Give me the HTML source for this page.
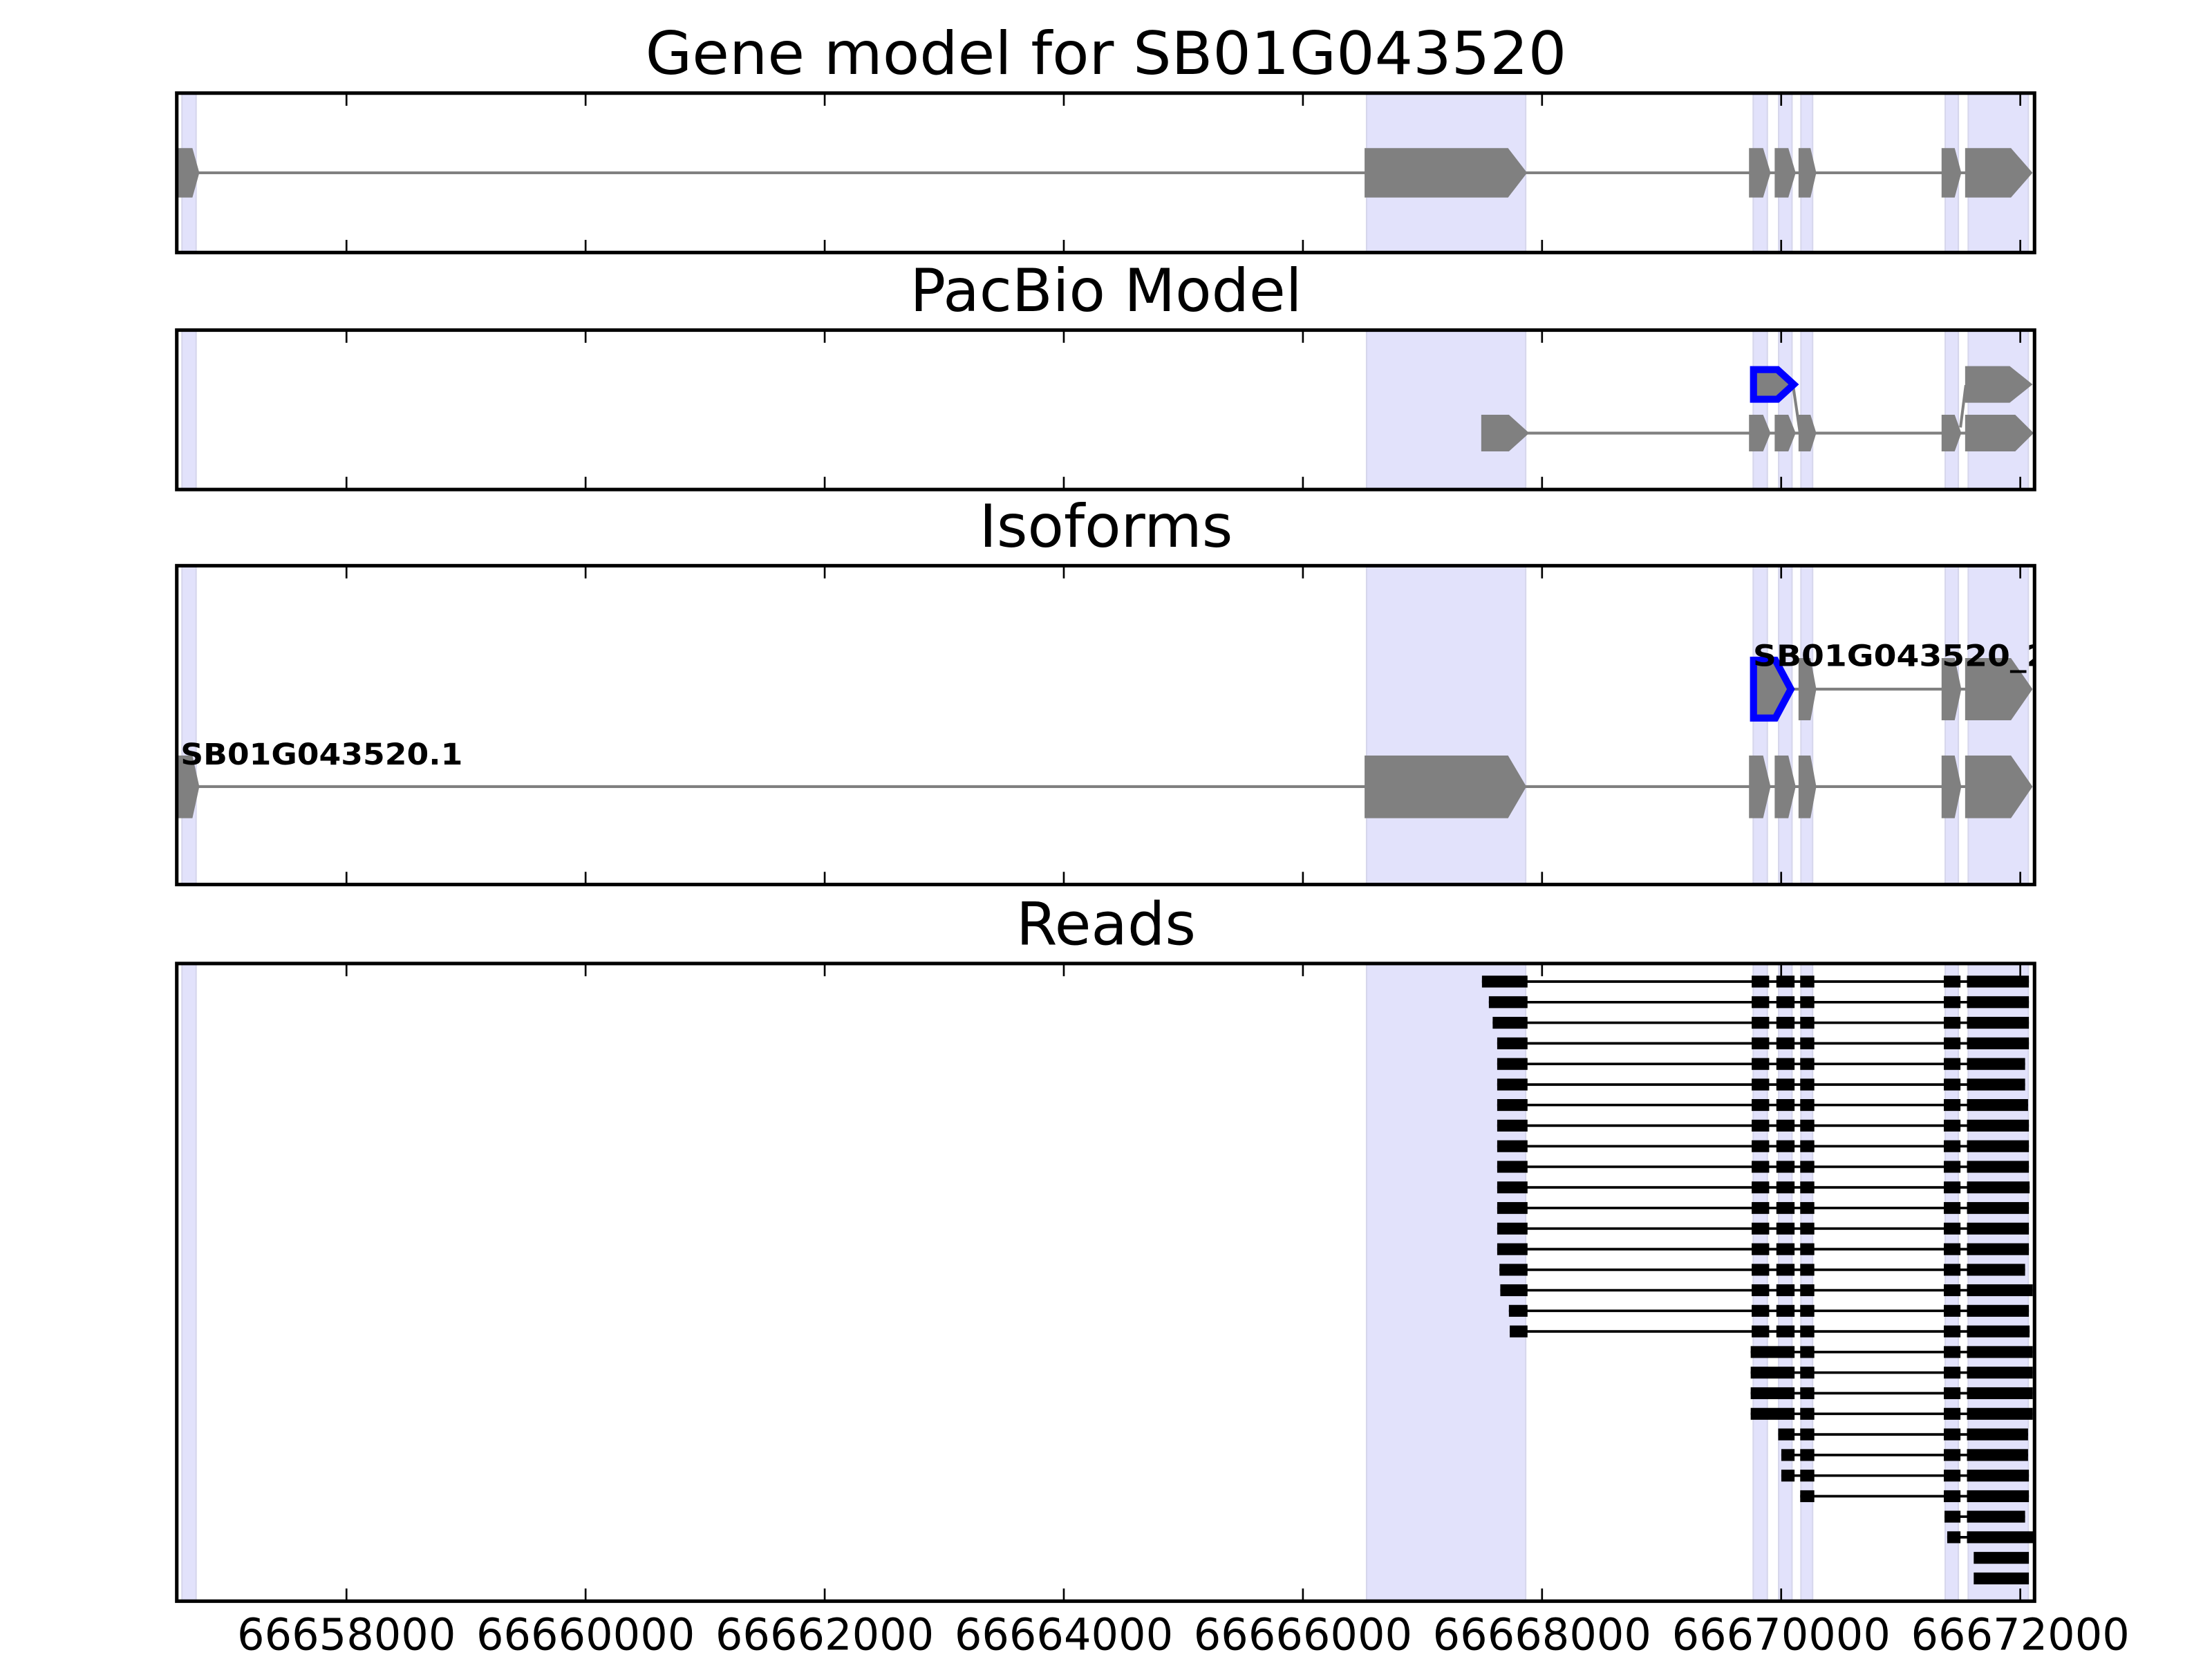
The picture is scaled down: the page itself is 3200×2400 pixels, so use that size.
<!DOCTYPE html>
<html><head><meta charset="utf-8"><style>
html,body{margin:0;padding:0;background:#fff;}
svg{display:block;}
text{font-family:"DejaVu Sans","Liberation Sans",sans-serif;}
</style></head><body>
<svg xmlns="http://www.w3.org/2000/svg" width="3200" height="2400" viewBox="0 0 1568 1176">
<defs>
<clipPath id="c3"><rect x="125" y="401" width="1318" height="226"/></clipPath>
<g id="bands">
<rect x="129" width="10" y="0" height="1" />
</g>
</defs>
<rect width="1568" height="1176" fill="#fff"/>

<!-- Bands -->
<g fill="#e2e2fb" stroke="#d6d6ec" stroke-width="1">
<g id="b1">
<rect x="129" y="66" width="10" height="113"/>
<rect x="968.7" y="66" width="112.8" height="113"/>
<rect x="1242.8" y="66" width="10" height="113"/>
<rect x="1260.8" y="66" width="9.5" height="113"/>
<rect x="1276.6" y="66" width="8.3" height="113"/>
<rect x="1378.9" y="66" width="9.3" height="113"/>
<rect x="1395.2" y="66" width="42.6" height="113"/>
</g>
<rect x="129" y="234" width="10" height="113"/>
<rect x="968.7" y="234" width="112.8" height="113"/>
<rect x="1242.8" y="234" width="10" height="113"/>
<rect x="1260.8" y="234" width="9.5" height="113"/>
<rect x="1276.6" y="234" width="8.3" height="113"/>
<rect x="1378.9" y="234" width="9.3" height="113"/>
<rect x="1395.2" y="234" width="42.6" height="113"/>

<rect x="129" y="401" width="10" height="226"/>
<rect x="968.7" y="401" width="112.8" height="226"/>
<rect x="1242.8" y="401" width="10" height="226"/>
<rect x="1260.8" y="401" width="9.5" height="226"/>
<rect x="1276.6" y="401" width="8.3" height="226"/>
<rect x="1378.9" y="401" width="9.3" height="226"/>
<rect x="1395.2" y="401" width="42.6" height="226"/>

<rect x="129" y="683" width="10" height="452"/>
<rect x="968.7" y="683" width="112.8" height="452"/>
<rect x="1242.8" y="683" width="10" height="452"/>
<rect x="1260.8" y="683" width="9.5" height="452"/>
<rect x="1276.6" y="683" width="8.3" height="452"/>
<rect x="1378.9" y="683" width="9.3" height="452"/>
<rect x="1395.2" y="683" width="42.6" height="452"/>
</g>

<!-- Panel 1: gene model -->
<line x1="130" y1="122.5" x2="1440" y2="122.5" stroke="#808080" stroke-width="2"/>
<g fill="#808080">
<polygon points="125,105 136.4,105 141.3,122.5 136.4,140 125,140"/>
<polygon points="967.3,105 1069,105 1082.5,122.5 1069,140 967.3,140"/>
<polygon points="1239.8,105 1249.8,105 1255.1,122.5 1249.8,140 1239.8,140"/>
<polygon points="1258,105 1267.7,105 1272.9,122.5 1267.7,140 1258,140"/>
<polygon points="1274.9,105 1283.4,105 1287.5,122.5 1283.4,140 1274.9,140"/>
<polygon points="1376.3,105 1385.6,105 1390.3,122.5 1385.6,140 1376.3,140"/>
<polygon points="1393,105 1425.5,105 1440.8,122.5 1425.5,140 1393,140"/>
</g>

<!-- Panel 2: PacBio -->
<line x1="1080" y1="307" x2="1440" y2="307" stroke="#808080" stroke-width="2"/>
<line x1="1271" y1="273" x2="1276" y2="307" stroke="#808080" stroke-width="2"/>
<line x1="1393.5" y1="273" x2="1389.7" y2="303" stroke="#808080" stroke-width="2"/>
<g fill="#808080">
<polygon points="1050,294 1069.6,294 1084,307 1069.6,320 1050,320"/>
<polygon points="1239.8,294 1249.8,294 1255.1,307 1249.8,320 1239.8,320"/>
<polygon points="1258,294 1267.7,294 1272.9,307 1267.7,320 1258,320"/>
<polygon points="1274.9,294 1283.4,294 1287.5,307 1283.4,320 1274.9,320"/>
<polygon points="1376.3,294 1385.6,294 1390.3,307 1385.6,320 1376.3,320"/>
<polygon points="1393,294 1428.5,294 1441.6,307 1428.5,320 1393,320"/>
<polygon points="1393,259.5 1424.6,259.5 1440.8,272.5 1424.6,285.5 1393,285.5"/>
</g>
<polygon points="1243,262 1260,262 1271.5,272.5 1260,283 1243,283" fill="#808080" stroke="#0000ff" stroke-width="5"/>

<!-- Panel 3: Isoforms -->
<line x1="130" y1="557.6" x2="1440" y2="557.6" stroke="#808080" stroke-width="2"/>
<line x1="1268" y1="488.5" x2="1440" y2="488.5" stroke="#808080" stroke-width="2"/>
<g fill="#808080">
<polygon points="125,535.6 136.4,535.6 141.3,557.6 136.4,580 125,580"/>
<polygon points="967.3,535.6 1069,535.6 1082,557.6 1069,580 967.3,580"/>
<polygon points="1239.8,535.6 1249.8,535.6 1255.1,557.6 1249.8,580 1239.8,580"/>
<polygon points="1258,535.6 1267.7,535.6 1272.9,557.6 1267.7,580 1258,580"/>
<polygon points="1274.9,535.6 1283.4,535.6 1287.5,557.6 1283.4,580 1274.9,580"/>
<polygon points="1376.3,535.6 1385.6,535.6 1390.3,557.6 1385.6,580 1376.3,580"/>
<polygon points="1393,535.6 1425.5,535.6 1440.8,557.6 1425.5,580 1393,580"/>
<polygon points="1274.9,466.5 1283.4,466.5 1287.5,488.5 1283.4,510.6 1274.9,510.6"/>
<polygon points="1376.3,466.5 1385.6,466.5 1390.3,488.5 1385.6,510.6 1376.3,510.6"/>
<polygon points="1393,466.5 1425.5,466.5 1440.8,488.5 1425.5,510.6 1393,510.6"/>
</g>
<polygon points="1243,468 1258.5,468 1269.5,488.5 1258.5,509 1243,509" fill="#808080" stroke="#0000ff" stroke-width="5"/>
<g clip-path="url(#c3)" font-weight="bold" font-size="21" fill="#000">
<text x="128" y="542" textLength="200" lengthAdjust="spacingAndGlyphs">SB01G043520.1</text>
<text x="1242.6" y="472" textLength="210" lengthAdjust="spacingAndGlyphs">SB01G043520_2</text>
</g>

<!-- Panel 4: Reads -->
<g fill="#000" stroke="#000">
<g transform="translate(0,695.8)"><line x1="1050.5" x2="1438.2" y1="0" y2="0" stroke-width="1.8"/><g stroke="none"><rect x="1050.5" y="-4.2" width="32.3" height="8.4"/><rect x="1241.7" y="-4.2" width="12.4" height="8.4"/><rect x="1259.2" y="-4.2" width="12.9" height="8.4"/><rect x="1276.1" y="-4.2" width="10" height="8.4"/><rect x="1377.9" y="-4.2" width="11.8" height="8.4"/><rect x="1394.3" y="-4.2" width="43.9" height="8.4"/></g></g>
<g transform="translate(0,710.4)"><line x1="1055.4" x2="1438.2" y1="0" y2="0" stroke-width="1.8"/><g stroke="none"><rect x="1055.4" y="-4.2" width="27.4" height="8.4"/><rect x="1241.7" y="-4.2" width="12.4" height="8.4"/><rect x="1259.2" y="-4.2" width="12.9" height="8.4"/><rect x="1276.1" y="-4.2" width="10" height="8.4"/><rect x="1377.9" y="-4.2" width="11.8" height="8.4"/><rect x="1394.3" y="-4.2" width="43.9" height="8.4"/></g></g>
<g transform="translate(0,725.0)"><line x1="1058.1" x2="1438.2" y1="0" y2="0" stroke-width="1.8"/><g stroke="none"><rect x="1058.1" y="-4.2" width="24.7" height="8.4"/><rect x="1241.7" y="-4.2" width="12.4" height="8.4"/><rect x="1259.2" y="-4.2" width="12.9" height="8.4"/><rect x="1276.1" y="-4.2" width="10" height="8.4"/><rect x="1377.9" y="-4.2" width="11.8" height="8.4"/><rect x="1394.3" y="-4.2" width="43.9" height="8.4"/></g></g>
<g transform="translate(0,739.6)"><line x1="1061.3" x2="1438.2" y1="0" y2="0" stroke-width="1.8"/><g stroke="none"><rect x="1061.3" y="-4.2" width="21.5" height="8.4"/><rect x="1241.7" y="-4.2" width="12.4" height="8.4"/><rect x="1259.2" y="-4.2" width="12.9" height="8.4"/><rect x="1276.1" y="-4.2" width="10" height="8.4"/><rect x="1377.9" y="-4.2" width="11.8" height="8.4"/><rect x="1394.3" y="-4.2" width="43.9" height="8.4"/></g></g>
<g transform="translate(0,754.2)"><line x1="1061.3" x2="1435.5" y1="0" y2="0" stroke-width="1.8"/><g stroke="none"><rect x="1061.3" y="-4.2" width="21.5" height="8.4"/><rect x="1241.7" y="-4.2" width="12.4" height="8.4"/><rect x="1259.2" y="-4.2" width="12.9" height="8.4"/><rect x="1276.1" y="-4.2" width="10" height="8.4"/><rect x="1377.9" y="-4.2" width="11.8" height="8.4"/><rect x="1394.3" y="-4.2" width="41.2" height="8.4"/></g></g>
<g transform="translate(0,768.8)"><line x1="1061.3" x2="1435.5" y1="0" y2="0" stroke-width="1.8"/><g stroke="none"><rect x="1061.3" y="-4.2" width="21.5" height="8.4"/><rect x="1241.7" y="-4.2" width="12.4" height="8.4"/><rect x="1259.2" y="-4.2" width="12.9" height="8.4"/><rect x="1276.1" y="-4.2" width="10" height="8.4"/><rect x="1377.9" y="-4.2" width="11.8" height="8.4"/><rect x="1394.3" y="-4.2" width="41.2" height="8.4"/></g></g>
<g transform="translate(0,783.3)"><line x1="1061.3" x2="1437.6" y1="0" y2="0" stroke-width="1.8"/><g stroke="none"><rect x="1061.3" y="-4.2" width="21.5" height="8.4"/><rect x="1241.7" y="-4.2" width="12.4" height="8.4"/><rect x="1259.2" y="-4.2" width="12.9" height="8.4"/><rect x="1276.1" y="-4.2" width="10" height="8.4"/><rect x="1377.9" y="-4.2" width="11.8" height="8.4"/><rect x="1394.3" y="-4.2" width="43.3" height="8.4"/></g></g>
<g transform="translate(0,797.9)"><line x1="1061.3" x2="1438.2" y1="0" y2="0" stroke-width="1.8"/><g stroke="none"><rect x="1061.3" y="-4.2" width="21.5" height="8.4"/><rect x="1241.7" y="-4.2" width="12.4" height="8.4"/><rect x="1259.2" y="-4.2" width="12.9" height="8.4"/><rect x="1276.1" y="-4.2" width="10" height="8.4"/><rect x="1377.9" y="-4.2" width="11.8" height="8.4"/><rect x="1394.3" y="-4.2" width="43.9" height="8.4"/></g></g>
<g transform="translate(0,812.5)"><line x1="1061.3" x2="1438.2" y1="0" y2="0" stroke-width="1.8"/><g stroke="none"><rect x="1061.3" y="-4.2" width="21.5" height="8.4"/><rect x="1241.7" y="-4.2" width="12.4" height="8.4"/><rect x="1259.2" y="-4.2" width="12.9" height="8.4"/><rect x="1276.1" y="-4.2" width="10" height="8.4"/><rect x="1377.9" y="-4.2" width="11.8" height="8.4"/><rect x="1394.3" y="-4.2" width="43.9" height="8.4"/></g></g>
<g transform="translate(0,827.1)"><line x1="1061.3" x2="1438.2" y1="0" y2="0" stroke-width="1.8"/><g stroke="none"><rect x="1061.3" y="-4.2" width="21.5" height="8.4"/><rect x="1241.7" y="-4.2" width="12.4" height="8.4"/><rect x="1259.2" y="-4.2" width="12.9" height="8.4"/><rect x="1276.1" y="-4.2" width="10" height="8.4"/><rect x="1377.9" y="-4.2" width="11.8" height="8.4"/><rect x="1394.3" y="-4.2" width="43.9" height="8.4"/></g></g>
<g transform="translate(0,841.7)"><line x1="1061.3" x2="1438.7" y1="0" y2="0" stroke-width="1.8"/><g stroke="none"><rect x="1061.3" y="-4.2" width="21.5" height="8.4"/><rect x="1241.7" y="-4.2" width="12.4" height="8.4"/><rect x="1259.2" y="-4.2" width="12.9" height="8.4"/><rect x="1276.1" y="-4.2" width="10" height="8.4"/><rect x="1377.9" y="-4.2" width="11.8" height="8.4"/><rect x="1394.3" y="-4.2" width="44.4" height="8.4"/></g></g>
<g transform="translate(0,856.3)"><line x1="1061.3" x2="1438.2" y1="0" y2="0" stroke-width="1.8"/><g stroke="none"><rect x="1061.3" y="-4.2" width="21.5" height="8.4"/><rect x="1241.7" y="-4.2" width="12.4" height="8.4"/><rect x="1259.2" y="-4.2" width="12.9" height="8.4"/><rect x="1276.1" y="-4.2" width="10" height="8.4"/><rect x="1377.9" y="-4.2" width="11.8" height="8.4"/><rect x="1394.3" y="-4.2" width="43.9" height="8.4"/></g></g>
<g transform="translate(0,870.9)"><line x1="1061.3" x2="1438.2" y1="0" y2="0" stroke-width="1.8"/><g stroke="none"><rect x="1061.3" y="-4.2" width="21.5" height="8.4"/><rect x="1241.7" y="-4.2" width="12.4" height="8.4"/><rect x="1259.2" y="-4.2" width="12.9" height="8.4"/><rect x="1276.1" y="-4.2" width="10" height="8.4"/><rect x="1377.9" y="-4.2" width="11.8" height="8.4"/><rect x="1394.3" y="-4.2" width="43.9" height="8.4"/></g></g>
<g transform="translate(0,885.5)"><line x1="1061.3" x2="1438.2" y1="0" y2="0" stroke-width="1.8"/><g stroke="none"><rect x="1061.3" y="-4.2" width="21.5" height="8.4"/><rect x="1241.7" y="-4.2" width="12.4" height="8.4"/><rect x="1259.2" y="-4.2" width="12.9" height="8.4"/><rect x="1276.1" y="-4.2" width="10" height="8.4"/><rect x="1377.9" y="-4.2" width="11.8" height="8.4"/><rect x="1394.3" y="-4.2" width="43.9" height="8.4"/></g></g>
<g transform="translate(0,900.1)"><line x1="1062.9" x2="1435.5" y1="0" y2="0" stroke-width="1.8"/><g stroke="none"><rect x="1062.9" y="-4.2" width="19.9" height="8.4"/><rect x="1241.7" y="-4.2" width="12.4" height="8.4"/><rect x="1259.2" y="-4.2" width="12.9" height="8.4"/><rect x="1276.1" y="-4.2" width="10" height="8.4"/><rect x="1377.9" y="-4.2" width="11.8" height="8.4"/><rect x="1394.3" y="-4.2" width="41.2" height="8.4"/></g></g>
<g transform="translate(0,914.6)"><line x1="1063.5" x2="1440.9" y1="0" y2="0" stroke-width="1.8"/><g stroke="none"><rect x="1063.5" y="-4.2" width="19.3" height="8.4"/><rect x="1241.7" y="-4.2" width="12.4" height="8.4"/><rect x="1259.2" y="-4.2" width="12.9" height="8.4"/><rect x="1276.1" y="-4.2" width="10" height="8.4"/><rect x="1377.9" y="-4.2" width="11.8" height="8.4"/><rect x="1394.3" y="-4.2" width="46.6" height="8.4"/></g></g>
<g transform="translate(0,929.2)"><line x1="1069.6" x2="1438.2" y1="0" y2="0" stroke-width="1.8"/><g stroke="none"><rect x="1069.6" y="-4.2" width="13.2" height="8.4"/><rect x="1241.7" y="-4.2" width="12.4" height="8.4"/><rect x="1259.2" y="-4.2" width="12.9" height="8.4"/><rect x="1276.1" y="-4.2" width="10" height="8.4"/><rect x="1377.9" y="-4.2" width="11.8" height="8.4"/><rect x="1394.3" y="-4.2" width="43.9" height="8.4"/></g></g>
<g transform="translate(0,943.8)"><line x1="1070.2" x2="1438.7" y1="0" y2="0" stroke-width="1.8"/><g stroke="none"><rect x="1070.2" y="-4.2" width="12.6" height="8.4"/><rect x="1241.7" y="-4.2" width="12.4" height="8.4"/><rect x="1259.2" y="-4.2" width="12.9" height="8.4"/><rect x="1276.1" y="-4.2" width="10" height="8.4"/><rect x="1377.9" y="-4.2" width="11.8" height="8.4"/><rect x="1394.3" y="-4.2" width="44.4" height="8.4"/></g></g>
<g transform="translate(0,958.4)"><line x1="1241" x2="1440.9" y1="0" y2="0" stroke-width="1.8"/><g stroke="none"><rect x="1241" y="-4.2" width="31.1" height="8.4"/><rect x="1276.1" y="-4.2" width="10" height="8.4"/><rect x="1377.9" y="-4.2" width="11.8" height="8.4"/><rect x="1394.3" y="-4.2" width="46.6" height="8.4"/></g></g>
<g transform="translate(0,973.0)"><line x1="1241" x2="1440.9" y1="0" y2="0" stroke-width="1.8"/><g stroke="none"><rect x="1241" y="-4.2" width="31.1" height="8.4"/><rect x="1276.1" y="-4.2" width="10" height="8.4"/><rect x="1377.9" y="-4.2" width="11.8" height="8.4"/><rect x="1394.3" y="-4.2" width="46.6" height="8.4"/></g></g>
<g transform="translate(0,987.6)"><line x1="1241" x2="1440.9" y1="0" y2="0" stroke-width="1.8"/><g stroke="none"><rect x="1241" y="-4.2" width="31.1" height="8.4"/><rect x="1276.1" y="-4.2" width="10" height="8.4"/><rect x="1377.9" y="-4.2" width="11.8" height="8.4"/><rect x="1394.3" y="-4.2" width="46.6" height="8.4"/></g></g>
<g transform="translate(0,1002.2)"><line x1="1241" x2="1440.9" y1="0" y2="0" stroke-width="1.8"/><g stroke="none"><rect x="1241" y="-4.2" width="31.1" height="8.4"/><rect x="1276.1" y="-4.2" width="10" height="8.4"/><rect x="1377.9" y="-4.2" width="11.8" height="8.4"/><rect x="1394.3" y="-4.2" width="46.6" height="8.4"/></g></g>
<g transform="translate(0,1016.8)"><line x1="1260.5" x2="1437.6" y1="0" y2="0" stroke-width="1.8"/><g stroke="none"><rect x="1260.5" y="-4.2" width="11.6" height="8.4"/><rect x="1276.1" y="-4.2" width="10" height="8.4"/><rect x="1377.9" y="-4.2" width="11.8" height="8.4"/><rect x="1394.3" y="-4.2" width="43.3" height="8.4"/></g></g>
<g transform="translate(0,1031.4)"><line x1="1262.7" x2="1437.6" y1="0" y2="0" stroke-width="1.8"/><g stroke="none"><rect x="1262.7" y="-4.2" width="9.4" height="8.4"/><rect x="1276.1" y="-4.2" width="10" height="8.4"/><rect x="1377.9" y="-4.2" width="11.8" height="8.4"/><rect x="1394.3" y="-4.2" width="43.3" height="8.4"/></g></g>
<g transform="translate(0,1046.0)"><line x1="1262.7" x2="1438.2" y1="0" y2="0" stroke-width="1.8"/><g stroke="none"><rect x="1262.7" y="-4.2" width="9.4" height="8.4"/><rect x="1276.1" y="-4.2" width="10" height="8.4"/><rect x="1377.9" y="-4.2" width="11.8" height="8.4"/><rect x="1394.3" y="-4.2" width="43.9" height="8.4"/></g></g>
<g transform="translate(0,1060.6)"><line x1="1276.1" x2="1438.2" y1="0" y2="0" stroke-width="1.8"/><g stroke="none"><rect x="1276.1" y="-4.2" width="10" height="8.4"/><rect x="1377.9" y="-4.2" width="11.8" height="8.4"/><rect x="1394.3" y="-4.2" width="43.9" height="8.4"/></g></g>
<g transform="translate(0,1075.1)"><line x1="1378.4" x2="1435.5" y1="0" y2="0" stroke-width="1.8"/><g stroke="none"><rect x="1378.4" y="-4.2" width="11.3" height="8.4"/><rect x="1394.3" y="-4.2" width="41.2" height="8.4"/></g></g>
<g transform="translate(0,1089.7)"><line x1="1380.3" x2="1442" y1="0" y2="0" stroke-width="1.8"/><g stroke="none"><rect x="1380.3" y="-4.2" width="9.4" height="8.4"/><rect x="1394.3" y="-4.2" width="47.7" height="8.4"/></g></g>
<rect x="1399.1" y="1100.1" width="39.1" height="8.4" stroke="none"/>
<rect x="1399.1" y="1114.7" width="39.1" height="8.4" stroke="none"/>
</g>

<!-- Frames -->
<g fill="none" stroke="#000" stroke-width="2.5">
<rect x="125.3" y="66" width="1316.9" height="113"/>
<rect x="125.3" y="234" width="1316.9" height="113"/>
<rect x="125.3" y="401" width="1316.9" height="226"/>
<rect x="125.3" y="683" width="1316.9" height="452"/>
</g>
<!-- Ticks -->
<g stroke="#000" stroke-width="1.3">
<path d="M245.6 66v9M415.1 66v9M584.6 66v9M754.1 66v9M923.6 66v9M1093.1 66v9M1262.6 66v9M1432.1 66v9
M245.6 179v-9M415.1 179v-9M584.6 179v-9M754.1 179v-9M923.6 179v-9M1093.1 179v-9M1262.6 179v-9M1432.1 179v-9
M245.6 234v9M415.1 234v9M584.6 234v9M754.1 234v9M923.6 234v9M1093.1 234v9M1262.6 234v9M1432.1 234v9
M245.6 347v-9M415.1 347v-9M584.6 347v-9M754.1 347v-9M923.6 347v-9M1093.1 347v-9M1262.6 347v-9M1432.1 347v-9
M245.6 401v9M415.1 401v9M584.6 401v9M754.1 401v9M923.6 401v9M1093.1 401v9M1262.6 401v9M1432.1 401v9
M245.6 627v-9M415.1 627v-9M584.6 627v-9M754.1 627v-9M923.6 627v-9M1093.1 627v-9M1262.6 627v-9M1432.1 627v-9
M245.6 683v9M415.1 683v9M584.6 683v9M754.1 683v9M923.6 683v9M1093.1 683v9M1262.6 683v9M1432.1 683v9
M245.6 1135v-9M415.1 1135v-9M584.6 1135v-9M754.1 1135v-9M923.6 1135v-9M1093.1 1135v-9M1262.6 1135v-9M1432.1 1135v-9"/>
</g>

<!-- Titles -->
<g font-size="42" text-anchor="middle" fill="#000">
<text x="784" y="52.5" textLength="653" lengthAdjust="spacingAndGlyphs">Gene model for SB01G043520</text>
<text x="784" y="220.5">PacBio Model</text>
<text x="784" y="387.5">Isoforms</text>
<text x="784" y="669.5">Reads</text>
</g>
<!-- Tick labels -->
<g font-size="31" text-anchor="middle" fill="#000">
<text x="245.6" y="1169.5" textLength="155" lengthAdjust="spacingAndGlyphs">66658000</text>
<text x="415.1" y="1169.5" textLength="155" lengthAdjust="spacingAndGlyphs">66660000</text>
<text x="584.6" y="1169.5" textLength="155" lengthAdjust="spacingAndGlyphs">66662000</text>
<text x="754.1" y="1169.5" textLength="155" lengthAdjust="spacingAndGlyphs">66664000</text>
<text x="923.6" y="1169.5" textLength="155" lengthAdjust="spacingAndGlyphs">66666000</text>
<text x="1093.1" y="1169.5" textLength="155" lengthAdjust="spacingAndGlyphs">66668000</text>
<text x="1262.6" y="1169.5" textLength="155" lengthAdjust="spacingAndGlyphs">66670000</text>
<text x="1432.1" y="1169.5" textLength="155" lengthAdjust="spacingAndGlyphs">66672000</text>
</g>
</svg>
</body></html>
